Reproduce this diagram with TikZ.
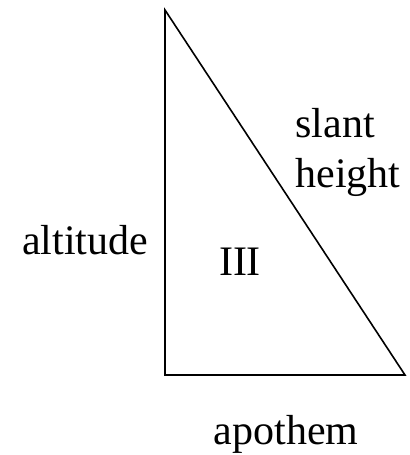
\documentclass[tikz,border=0pt]{standalone}
\usepackage{fontspec}
\setmainfont{Liberation Serif}
\usetikzlibrary{positioning}

\begin{document}
\begin{tikzpicture}[x=0.5pt,y=-0.5pt,font=\fontsize{21}{25}\selectfont,
    lbl/.style={inner sep=0pt,align=center}]
  \useasboundingbox (0,0) rectangle (409,455);
  % triangle corners
  \coordinate (top) at (165,10);
  \coordinate (bl) at (165,375);
  \coordinate (br) at (405,375);
  \draw[line width=0.8pt,line join=miter] (top) -- (bl) -- (br) -- cycle;
  % labels
  \node[lbl] (alt) at (85,240) {altitude};
  \node[lbl] (num) at (240,262) {III};
  \node[lbl,align=left,anchor=west] (slant) at (295,152) {slant\\height};
  \node[lbl] (apo) at (286,434) {apothem};
\end{tikzpicture}
\end{document}
